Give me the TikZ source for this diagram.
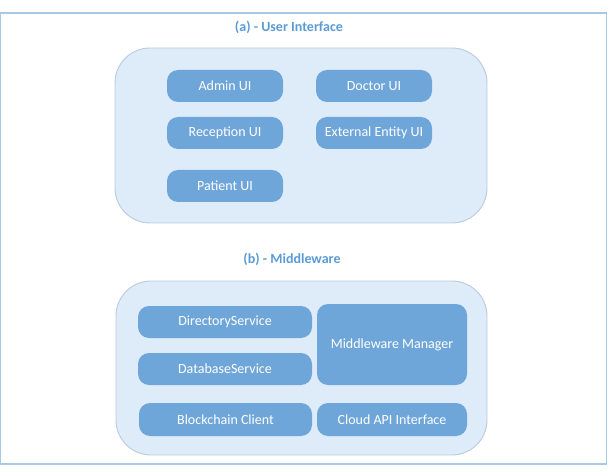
\documentclass[tikz,border=0pt]{standalone}
\usepackage{fontspec}
\setmainfont{Carlito}
\definecolor{frameblue}{HTML}{A9C8E6}
\definecolor{titleblue}{HTML}{5B9BD5}
\definecolor{groupfill}{HTML}{DEEBF8}
\definecolor{groupdraw}{HTML}{B9CBDD}
\definecolor{itemfill}{HTML}{6FA6D9}
\begin{document}
\begin{tikzpicture}[x=1pt,y=-1pt,
  group/.style={draw=groupdraw,line width=0.9pt,fill=groupfill,rounded corners=35pt,inner sep=0pt},
  item/.style={fill=itemfill,rounded corners=11pt,text=white,font=\fontsize{14}{16}\selectfont,inner sep=0pt,minimum width=116pt,minimum height=32pt},
  title/.style={text=titleblue,font=\bfseries\fontsize{14}{16}\selectfont}]
\useasboundingbox (0,0) rectangle (608,473);
\node[draw=frameblue,line width=1.2pt,minimum width=606pt,minimum height=451pt,inner sep=0pt] (frame) at (303.5,238.5) {};
\node[title] (ta) at (289,27) {(a) - User Interface};
\node[group,minimum width=372pt,minimum height=175pt] (ga) at (301,135.5) {};
\node[item] (admin) at (225,86) {Admin UI};
\node[item] (doctor) at (374,86) {Doctor UI};
\node[item] (reception) at (225,133) {Reception UI};
\node[item] (external) at (374,133) {External Entity UI};
\node[item] (patient) at (225,186) {Patient UI};
\node[title] (tb) at (292,259) {(b) - Middleware};
\node[group,minimum width=371pt,minimum height=174pt] (gb) at (301.5,368) {};
\node[item,minimum width=174pt] (dir) at (225,322) {DirectoryService};
\node[item,minimum width=174pt] (db) at (225,369) {DatabaseService};
\node[item,minimum width=173pt,minimum height=33pt] (bc) at (225.5,419.5) {Blockchain Client};
\node[item,minimum width=150pt,minimum height=81pt] (mm) at (392,344.5) {Middleware Manager};
\node[item,minimum width=150pt,minimum height=33pt] (cloud) at (392,419.5) {Cloud API Interface};
\end{tikzpicture}
\end{document}
